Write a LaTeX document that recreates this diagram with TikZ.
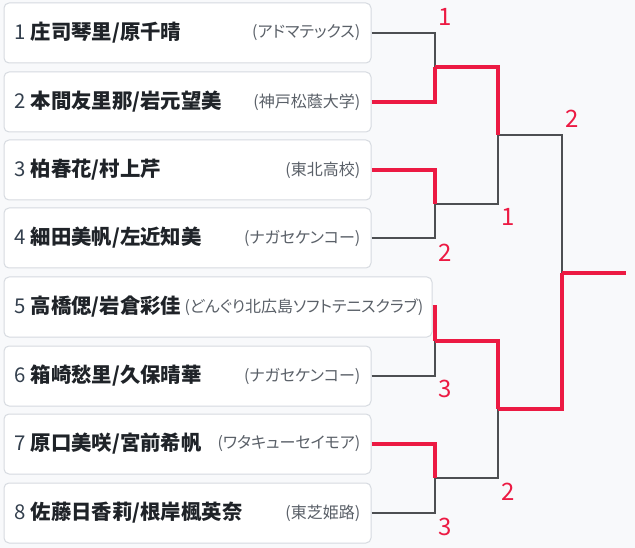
\documentclass[tikz,border=0pt]{standalone}
\usepackage{fontspec}
\setmainfont{Noto Sans CJK JP}
\newfontfamily\clubfont[RawFeature=+palt]{Noto Sans CJK JP}

\definecolor{paper}{HTML}{F8F9FB}
\definecolor{boxline}{HTML}{D6DAE0}
\definecolor{ink}{HTML}{1F2328}
\definecolor{numink}{HTML}{34404E}
\definecolor{muted}{HTML}{5A6068}
\definecolor{lossgray}{HTML}{4D4F52}
\definecolor{winred}{HTML}{EC1A43}

\tikzset{
  entry/.style={draw=boxline, fill=white, rounded corners=5pt, line width=1pt,
    minimum height=60pt, minimum width=367pt, inner sep=0pt},
  wide/.style={entry, minimum width=428pt},
  player/.style={anchor=west, inner sep=0pt, text=ink,
    font=\fontsize{20.4}{20.4}\selectfont\bfseries},
  club/.style={anchor=east, inner sep=0pt, text=muted,
    font=\clubfont\fontsize{16}{16}\selectfont},
  lose/.style={draw=lossgray, line width=2.6pt},
  win/.style={draw=winred, line width=3.5pt},
  score/.style={text=winred, inner sep=0pt, font=\fontsize{24}{24}\selectfont}
}

\newcommand{\seed}[1]{{\mdseries\color{numink}#1}}

\begin{document}
\begin{tikzpicture}[x=1pt, y=-1pt]

\fill[paper] (0,0) rectangle (635,548);
\useasboundingbox (0,0) rectangle (635,548);

% entries
\node[entry] (p1) at (187.5, 33) {};
\node[entry] (p2) at (187.5, 102) {};
\node[entry] (p3) at (187.5, 170) {};
\node[entry] (p4) at (187.5, 238) {};
\node[wide]  (p5) at (218, 307) {};
\node[entry] (p6) at (187.5, 376) {};
\node[entry] (p7) at (187.5, 444) {};
\node[entry] (p8) at (187.5, 513) {};

\node[player] (n1) at ([xshift=11pt]p1.west) {\seed{1} 庄司琴里/原千晴};
\node[player] (n2) at ([xshift=11pt]p2.west) {\seed{2} 本間友里那/岩元望美};
\node[player] (n3) at ([xshift=11pt]p3.west) {\seed{3} 柏春花/村上芹};
\node[player] (n4) at ([xshift=11pt]p4.west) {\seed{4} 細田美帆/左近知美};
\node[player] (n5) at ([xshift=11pt]p5.west) {\seed{5} 高橋偲/岩倉彩佳};
\node[player] (n6) at ([xshift=11pt]p6.west) {\seed{6} 箱崎愁里/久保晴華};
\node[player] (n7) at ([xshift=11pt]p7.west) {\seed{7} 原口美咲/宮前希帆};
\node[player] (n8) at ([xshift=11pt]p8.west) {\seed{8} 佐藤日香莉/根岸楓英奈};

\node[club] (c1) at ([xshift=-11pt]p1.east) {(アドマテックス)};
\node[club] (c2) at ([xshift=-11pt]p2.east) {(神戸松蔭大学)};
\node[club] (c3) at ([xshift=-11pt]p3.east) {(東北高校)};
\node[club] (c4) at ([xshift=-11pt]p4.east) {(ナガセケンコー)};
\node[club] (c5) at ([xshift=-9pt]p5.east) {(どんぐり北広島ソフトテニスクラブ)};
\node[club] (c6) at ([xshift=-11pt]p6.east) {(ナガセケンコー)};
\node[club] (c7) at ([xshift=-11pt]p7.east) {(ワタキューセイモア)};
\node[club] (c8) at ([xshift=-11pt]p8.east) {(東芝姫路)};

% junctions
\coordinate (m1) at (435, 67);
\coordinate (m2) at (435, 204);
\coordinate (m3) at (435, 341);
\coordinate (m4) at (435, 478);
\coordinate (s1) at (498, 135);
\coordinate (s2) at (498, 409);
\coordinate (f) at (562, 273);
\coordinate (champ) at (626, 273);

% losers first, winners on top
\draw[lose] (p1.east) -| (m1);
\draw[lose] (p4.east) -| (m2);
\draw[lose] (p6.east) -| (m3);
\draw[lose] (p8.east) -| (m4);
\draw[lose] (m2) -| (s1);
\draw[lose] (m4) -| (s2);
\draw[lose] (s1) -| (f);

\draw[win] (p2.east) -| (m1);
\draw[win] (p3.east) -| (m2);
\draw[win] (p5.east) -| (m3);
\draw[win] (p7.east) -| (m4);
\draw[win] (m1) -| (s1);
\draw[win] (m3) -| (s2);
\draw[win] (s2) -| (f);
\draw[win] (f) -- (champ);

% scores
\node[score] (r1) at (445, 17) {1};
\node[score] (r2) at (445, 253) {2};
\node[score] (r3) at (445, 389) {3};
\node[score] (r4) at (445, 527) {3};
\node[score] (r5) at (508, 217) {1};
\node[score] (r6) at (508, 492) {2};
\node[score] (r7) at (572, 119) {2};

\end{tikzpicture}
\end{document}
